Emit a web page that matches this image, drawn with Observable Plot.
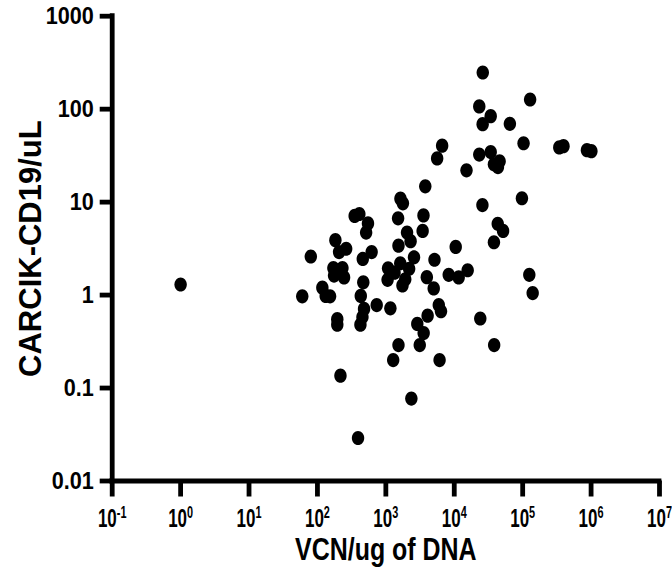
<!DOCTYPE html>
<html>
<head>
<meta charset="utf-8">
<script src="https://cdn.jsdelivr.net/npm/d3@7"></script>
<script src="https://cdn.jsdelivr.net/npm/@observablehq/plot@0.6"></script>
<style>
  html, body { margin: 0; padding: 0; background: #fff; }
  #chart { width: 672px; height: 578px; }
</style>
</head>
<body>
<div id="chart"></div>
<script>
// VCN per ug of DNA (x) and CARCIK-CD19 per uL (y)
const vcn = [
  1, 60, 80, 118, 132, 153, 183, 171, 175, 232,
  245, 195, 195, 207, 263, 217, 350, 410, 548, 515,
  460, 468, 430, 480, 455, 425, 392, 620, 735, 1165,
  1078, 1060, 1280, 1530, 1510, 1530, 1635, 1775, 1625, 1340,
  1750, 1920, 2190, 2040, 2300, 2580, 2360, 2880, 3130, 3570,
  3450, 3550, 3770, 3970, 4080, 5140, 5010, 5940, 6400, 6100,
  5620, 6650, 8300, 10500, 11600, 15700, 15100, 23200, 26100, 26000,
  23200, 25800, 24000, 34100, 34100, 38000, 46000, 43500, 38000, 43200,
  51700, 38300, 65000, 103000, 97500, 128500, 125000, 140000, 343000, 395000,
  870000, 1010000
];
const carcik = [
  1.3, 0.97, 2.6, 1.2, 0.98, 0.97, 3.9, 1.95, 1.62, 1.95,
  1.55, 0.55, 0.48, 2.9, 3.15, 0.136, 7.1, 7.45, 5.9, 4.7,
  2.45, 1.37, 0.98, 0.71, 0.58, 0.48, 0.029, 2.9, 0.78, 0.72,
  1.94, 1.46, 0.2, 0.29, 6.7, 3.4, 10.9, 9.7, 2.2, 1.74,
  1.27, 1.48, 1.92, 4.7, 3.8, 2.55, 0.077, 0.49, 0.29, 0.39,
  4.9, 7.2, 14.8, 1.56, 0.6, 2.4, 1.18, 0.78, 0.67, 0.2,
  29.5, 40.5, 1.65, 3.3, 1.55, 1.85, 22, 107, 248, 69,
  32.5, 9.3, 0.56, 84, 34.5, 25.5, 27.5, 23.8, 3.7, 5.85,
  4.9, 0.29, 69.5, 43, 11, 127, 1.65, 1.05, 38.8, 40,
  36.2, 35.3
];
const xTicks = [0.1, 1, 10, 100, 1000, 1e4, 1e5, 1e6, 1e7];
const xTickExp = ["-1", "0", "1", "2", "3", "4", "5", "6", "7"];
const yTicks = [0.01, 0.1, 1, 10, 100, 1000];
const yTickLabels = ["0.01", "0.1", "1", "10", "100", "1000"];
const xLabel = "VCN/ug of DNA";
const yLabel = "CARCIK-CD19/uL";

const points = vcn.map((v, i) => ({vcn: v, carcik: carcik[i]}));

// elliptical dot symbol (slightly taller than wide)
const ellipse = {
  draw(ctx) {
    const rx = 6.2, ry = 7.1, k = 0.5523;
    ctx.moveTo(rx, 0);
    ctx.bezierCurveTo(rx, ry * k, rx * k, ry, 0, ry);
    ctx.bezierCurveTo(-rx * k, ry, -rx, ry * k, -rx, 0);
    ctx.bezierCurveTo(-rx, -ry * k, -rx * k, -ry, 0, -ry);
    ctx.bezierCurveTo(rx * k, -ry, rx, -ry * k, rx, 0);
    ctx.closePath();
  }
};

const sans = "'Liberation Sans', Arial, sans-serif";
const AXW = 4.8;

const chart = Plot.plot({
  width: 672,
  height: 578,
  marginLeft: 111.7,
  marginRight: 13,
  marginTop: 15.7,
  marginBottom: 97.5,
  style: {background: "#fff", color: "#000", overflow: "visible"},
  x: {type: "log", domain: [0.1, 1e7]},
  y: {type: "log", domain: [0.01, 1000]},
  marks: [
    Plot.axisX({
      ticks: xTicks,
      tickSize: 16,
      tickPadding: 12,
      strokeWidth: AXW,
      tickFormat: (d) => xTickExp[xTicks.indexOf(d)],
      fontFamily: sans,
      fontSize: 25,
      fontWeight: "bold",
      label: null
    }),
    Plot.axisY({
      ticks: yTicks,
      tickSize: 12,
      tickPadding: 6.4,
      strokeWidth: AXW,
      tickFormat: (d) => yTickLabels[yTicks.indexOf(d)],
      fontFamily: sans,
      fontSize: 24,
      fontWeight: "bold",
      label: null
    }),
    Plot.ruleY([0.01], {x1: 0.1, x2: 1e7, stroke: "#000", strokeWidth: AXW, strokeLinecap: "square"}),
    Plot.ruleX([0.1], {y1: 0.01, y2: 1000, stroke: "#000", strokeWidth: AXW, strokeLinecap: "square"}),
    Plot.dot(points, {x: "vcn", y: "carcik", symbol: ellipse, r: 7, fill: "#000", stroke: "none"}),
    Plot.text([xLabel], {
      frameAnchor: "bottom", dy: 69, lineAnchor: "middle", textAnchor: "middle",
      fontFamily: sans, fontSize: 32, fontWeight: "bold", fill: "#000"
    }),
    Plot.text([yLabel], {
      frameAnchor: "left", dx: -80.7, rotate: -90, lineAnchor: "middle", textAnchor: "middle",
      fontFamily: sans, fontSize: 31, fontWeight: "bold", fill: "#000"
    })
  ]
});

const svg = d3.select(chart);
function squeeze(sel, sx) {
  sel.each(function () {
    const t = d3.select(this);
    const tr = t.attr("transform") || "";
    t.attr("transform", tr + ` scale(${sx},1)`);
  });
}

// x tick labels: "10" with a superscript exponent, condensed
const xt = svg.selectAll('g[aria-label="x-axis tick label"] text');
xt.each(function () {
  const t = d3.select(this);
  const exp = t.text();
  t.text("10");
  t.append("tspan")
    .attr("dy", "-9")
    .style("font-size", "16px")
    .text(exp);
});
squeeze(xt, 0.68);
squeeze(svg.selectAll('g[aria-label="y-axis tick label"] text'), 0.9);
squeeze(svg.selectAll("text").filter(function () { return this.textContent === xLabel; }), 0.78);

document.getElementById("chart").appendChild(chart);
</script>
</body>
</html>
